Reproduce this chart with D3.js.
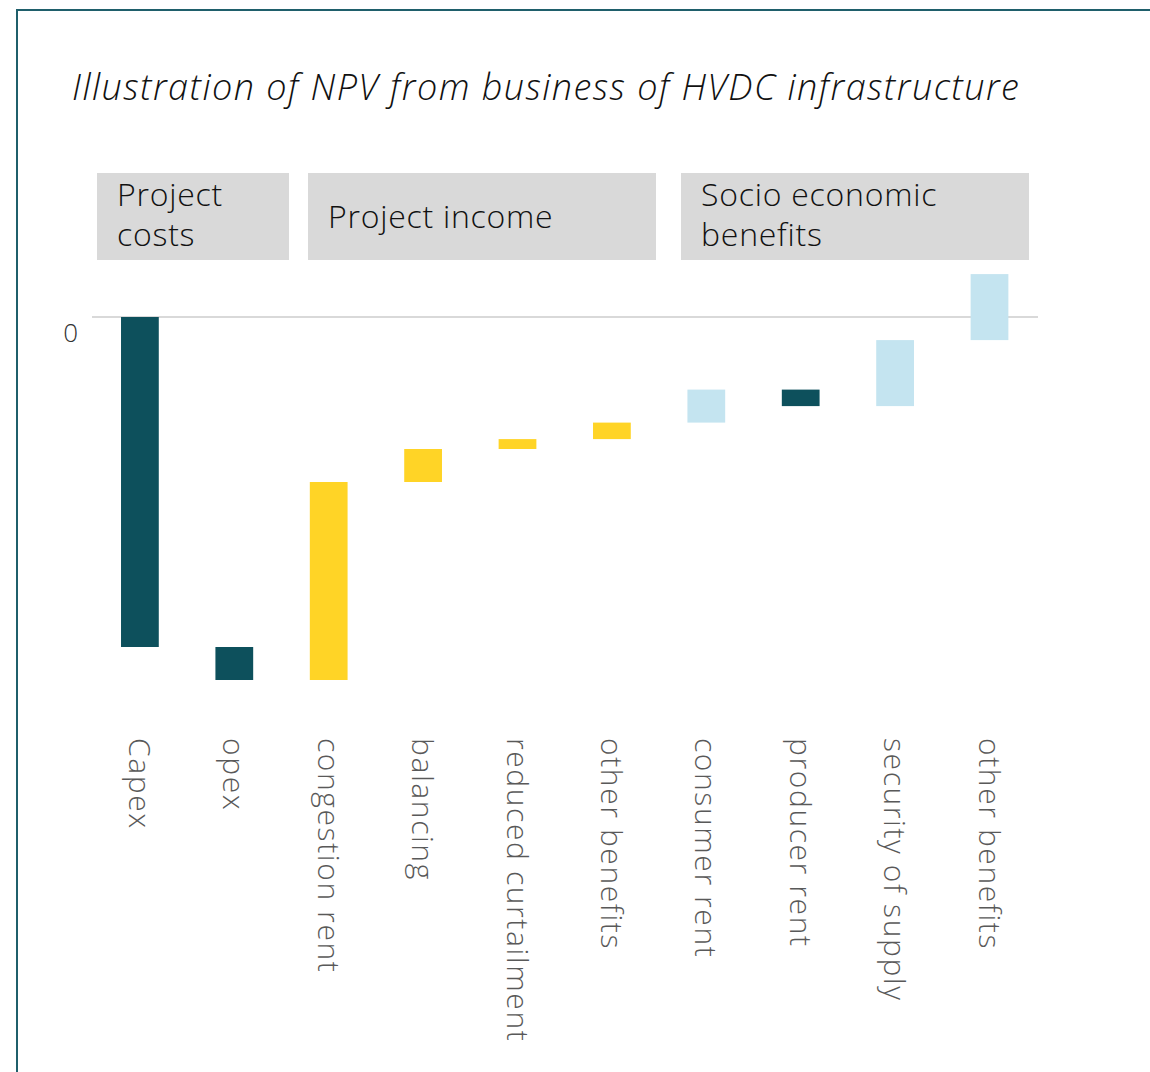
<!DOCTYPE html>
<meta charset="utf-8">
<script src="https://d3js.org/d3.v7.min.js"></script>
<style>
  body { margin: 0; background: #fff; }
  text { font-family: "Open Sans", "Noto Sans", sans-serif; }
</style>
<div id="my_dataviz"></div>
<script>
// ---- data ----
const categories = ["Capex", "opex", "congestion rent", "balancing", "reduced curtailment",
  "other benefits", "consumer rent", "producer rent", "security of supply", "other benefits "];
const changes = [-10, -1, 6, 1, 0.3, 0.5, 1, -0.5, 2, 2];
const groups = ["cost", "cost", "income", "income", "income", "income", "socio", "socio", "socio", "socio"];
const groupLabels = [["Project", "costs"], ["Project income"], ["Socio economic", "benefits"]];
const yTicks = [0];

// ---- layout ----
const width = 1150, height = 1072;
const boxLayout = [[97, 289], [308, 656], [681, 1029]];
const colors = { negative: "#0d505c", income: "#ffd426", socio: "#c4e4f0", cost: "#0d505c" };

const svg = d3.select("#my_dataviz").append("svg")
  .attr("width", width).attr("height", height);

// frame
svg.append("rect")
  .attr("x", 17).attr("y", 10)
  .attr("width", 1200).attr("height", 1200)
  .attr("fill", "none").attr("stroke", "#1f5f6b").attr("stroke-width", 2);

// title
svg.append("text")
  .attr("x", 72).attr("y", 100)
  .attr("font-size", 36)
  .attr("font-style", "italic")
  .attr("font-weight", 300)
  .attr("letter-spacing", 1.45)
  .attr("fill", "#111")
  .text("Illustration of NPV from business of HVDC infrastructure");

// waterfall
let run = 0;
const bars = categories.map((c, i) => {
  const start = run;
  run += changes[i];
  return { cat: c, start: start, end: run, value: changes[i], group: groups[i] };
});

const x = d3.scaleBand()
  .domain(categories)
  .range([92.7, 1036.7])
  .paddingInner(0.6)
  .paddingOuter(0.3);

const y = d3.scaleLinear()
  .domain([-11, 2])
  .range([680, 251]);

// zero gridline
svg.append("g")
  .selectAll("line")
  .data(yTicks)
  .join("line")
    .attr("x1", 92).attr("x2", 1038)
    .attr("y1", d => y(d)).attr("y2", d => y(d))
    .attr("stroke", "#d9d9d9").attr("stroke-width", 2);

// y labels
svg.append("g")
  .selectAll("text")
  .data(yTicks)
  .join("text")
    .attr("x", 78).attr("y", d => y(d) + 25)
    .attr("text-anchor", "end")
    .attr("font-size", 26)
    .attr("font-weight", 300)
    .attr("fill", "#333")
    .text(d => d);

// bars
svg.append("g")
  .selectAll("rect")
  .data(bars)
  .join("rect")
    .attr("x", d => x(d.cat))
    .attr("width", x.bandwidth())
    .attr("y", d => y(Math.max(d.start, d.end)))
    .attr("height", d => Math.abs(y(d.start) - y(d.end)))
    .attr("fill", d => d.value < 0 ? colors.negative : colors[d.group]);

// category labels (rotated)
svg.append("g")
  .selectAll("text")
  .data(categories)
  .join("text")
    .attr("transform", d => `translate(${x(d) + x.bandwidth() / 2},738) rotate(90)`)
    .attr("dy", "0.36em")
    .attr("font-size", 30)
    .attr("font-weight", 300)
    .attr("letter-spacing", 1.6)
    .attr("fill", "#595959")
    .text(d => d.trim());

// group boxes
const gb = svg.append("g")
  .selectAll("g")
  .data(groupLabels)
  .join("g");

gb.append("rect")
  .attr("x", (d, i) => boxLayout[i][0])
  .attr("width", (d, i) => boxLayout[i][1] - boxLayout[i][0])
  .attr("y", 173).attr("height", 87)
  .attr("fill", "#d9d9d9");

gb.append("text")
  .attr("font-size", 32)
  .attr("font-weight", 300)
  .attr("letter-spacing", 0.75)
  .attr("fill", "#111")
  .selectAll("tspan")
  .data((d, i) => d.map(t => ({ t: t, i: i, n: d.length })))
  .join("tspan")
    .attr("x", d => boxLayout[d.i][0] + 20)
    .attr("y", (d, k) => d.n === 1 ? 228 : 206 + k * 40)
    .text(d => d.t);
</script>
